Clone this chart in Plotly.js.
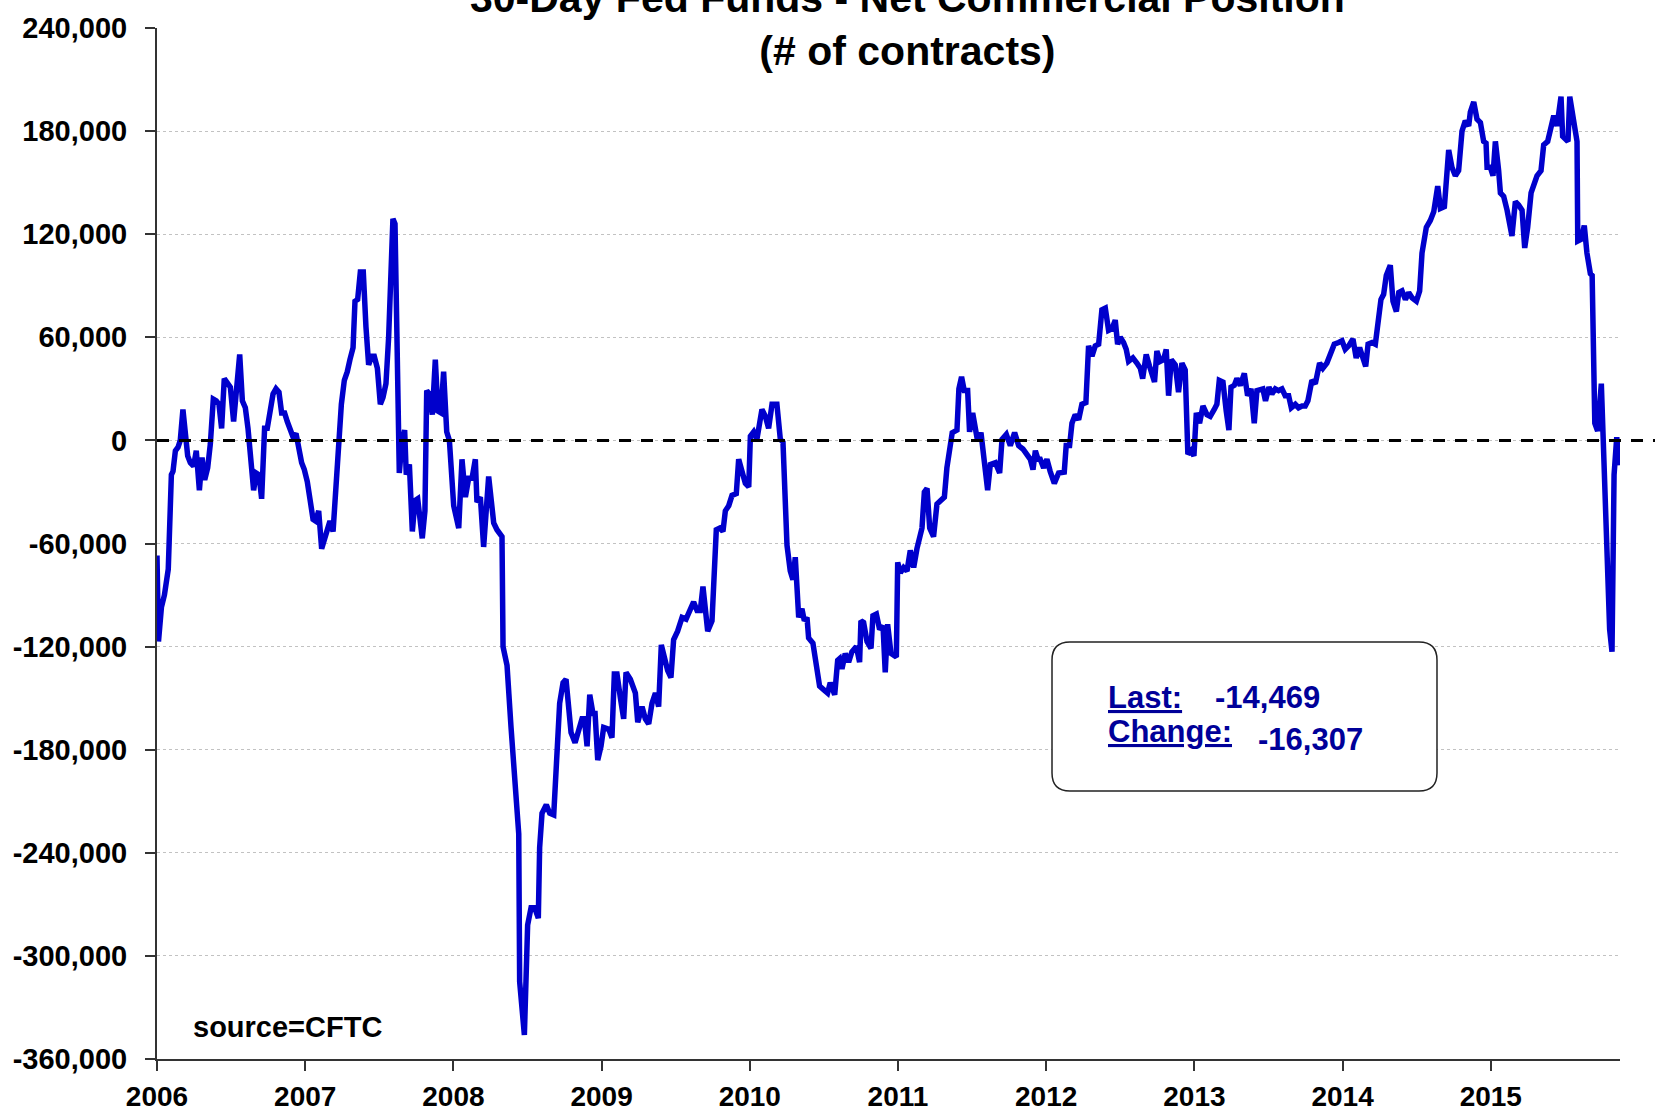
<!DOCTYPE html>
<html>
<head>
<meta charset="utf-8">
<script src="https://cdn.plot.ly/plotly-3.0.1.min.js"></script>
<style>
html,body{margin:0;padding:0;background:#ffffff;}
#chart{width:1655px;height:1113px;}
</style>
</head>
<body>
<div id="chart"></div>
<script>
// ---- DATA (decimal year, net commercial position in # of contracts) ----
const weekYears = [
  2006.000,2006.010,2006.030,2006.050,2006.076,2006.097,2006.108,2006.124,2006.142,2006.157,
  2006.175,2006.193,2006.207,2006.225,2006.247,2006.265,2006.286,2006.304,2006.322,2006.342,
  2006.360,2006.380,2006.400,2006.418,2006.436,2006.454,2006.475,2006.495,2006.517,2006.535,
  2006.558,2006.576,2006.596,2006.614,2006.632,2006.652,2006.670,2006.688,2006.706,2006.726,
  2006.744,2006.765,2006.783,2006.803,2006.823,2006.841,2006.861,2006.879,2006.900,2006.918,
  2006.938,2006.956,2006.976,2006.994,2007.014,2007.032,2007.053,2007.071,2007.091,2007.111,
  2007.129,2007.149,2007.167,2007.188,2007.206,2007.226,2007.244,2007.264,2007.284,2007.302,
  2007.323,2007.336,2007.354,2007.372,2007.392,2007.410,2007.428,2007.449,2007.466,2007.487,
  2007.507,2007.525,2007.545,2007.563,2007.583,2007.592,2007.606,2007.622,2007.635,2007.653,
  2007.671,2007.682,2007.703,2007.723,2007.741,2007.759,2007.779,2007.790,2007.808,2007.820,
  2007.838,2007.858,2007.878,2007.896,2007.916,2007.934,2007.955,2007.973,
  2008.002,2008.036,2008.058,2008.081,2008.103,2008.126,2008.148,2008.159,2008.182,2008.204,
  2008.238,2008.272,2008.294,2008.328,2008.335,2008.362,2008.389,2008.418,2008.441,2008.447,
  2008.479,2008.501,2008.524,2008.549,2008.573,2008.582,2008.598,2008.627,2008.650,2008.677,
  2008.699,2008.717,2008.740,2008.760,2008.794,2008.821,2008.848,2008.868,2008.884,2008.902,
  2008.920,2008.942,2008.956,2008.974,2008.996,2009.014,2009.048,2009.070,2009.086,2009.104,
  2009.127,2009.149,2009.165,2009.194,2009.228,2009.244,2009.273,2009.295,2009.318,2009.340,
  2009.363,2009.385,2009.403,2009.423,2009.446,2009.468,2009.486,2009.513,2009.543,2009.570,
  2009.599,2009.621,2009.644,2009.666,2009.684,2009.700,2009.716,2009.745,2009.756,2009.774,
  2009.797,2009.819,2009.835,2009.858,2009.880,2009.909,2009.925,2009.948,2009.970,2009.993,
  2010.004,2010.026,2010.048,2010.082,2010.105,2010.127,2010.150,2010.183,2010.206,2010.224,
  2010.235,2010.251,2010.273,2010.291,2010.307,2010.330,2010.352,2010.368,2010.386,2010.397,
  2010.426,2010.449,2010.471,2010.498,2010.525,2010.543,2010.573,2010.593,2010.606,2010.622,
  2010.644,2010.667,2010.689,2010.719,2010.741,2010.750,2010.768,2010.791,2010.818,2010.831,
  2010.854,2010.876,2010.899,2010.914,2010.930,2010.953,2010.989,2010.998,2011.016,2011.038,
  2011.061,2011.083,2011.106,2011.128,2011.151,2011.162,2011.178,2011.196,2011.214,2011.240,
  2011.263,2011.286,2011.313,2011.330,2011.353,2011.366,2011.398,2011.411,2011.429,2011.447,
  2011.470,2011.483,2011.504,2011.517,2011.537,2011.560,2011.582,2011.605,2011.623,2011.657,
  2011.686,2011.702,2011.731,2011.758,2011.787,2011.814,2011.843,2011.870,2011.893,2011.911,
  2011.927,2011.945,2011.960,2011.983,2012.005,2012.027,2012.055,2012.084,
  2012.099,2012.122,2012.135,2012.158,2012.174,2012.196,2012.219,2012.241,2012.268,2012.286,
  2012.309,2012.331,2012.354,2012.376,2012.399,2012.421,2012.444,2012.466,2012.482,2012.500,
  2012.522,2012.540,2012.556,2012.585,2012.612,2012.635,2012.651,2012.675,2012.698,2012.720,
  2012.731,2012.747,2012.770,2012.792,2012.810,2012.826,2012.844,2012.871,2012.893,2012.916,
  2012.938,2012.956,2012.977,2012.997,2013.013,2013.035,2013.058,2013.085,2013.107,2013.134,
  2013.152,2013.168,2013.193,2013.215,2013.233,2013.247,2013.269,2013.287,2013.310,2013.337,
  2013.359,2013.382,2013.404,2013.422,2013.444,2013.462,2013.480,2013.503,2013.523,2013.546,
  2013.568,2013.591,2013.613,2013.636,2013.654,2013.681,2013.703,2013.726,2013.748,2013.766,
  2013.793,2013.816,2013.845,2013.867,2013.894,2013.921,2013.944,2013.973,2013.996,2014.018,
  2014.041,2014.070,2014.092,
  2014.115,2014.138,2014.156,2014.172,2014.199,2014.221,2014.244,2014.259,2014.277,2014.295,
  2014.322,2014.340,2014.363,2014.379,2014.401,2014.424,2014.446,2014.469,2014.498,2014.520,
  2014.536,2014.565,2014.592,2014.615,2014.642,2014.660,2014.687,2014.716,2014.738,2014.761,
  2014.783,2014.806,2014.828,2014.851,2014.862,2014.885,2014.907,2014.930,2014.952,2014.968,
  2014.975,2014.997,2015.015,2015.031,2015.053,2015.065,2015.087,2015.110,2015.143,2015.166,
  2015.188,2015.211,2015.229,2015.249,2015.272,2015.294,2015.312,2015.339,2015.357,2015.384,
  2015.402,2015.425,2015.447,2015.474,2015.485,2015.503,2015.521,2015.533,2015.555,2015.582,
  2015.587,2015.609,2015.631,2015.649,2015.672,2015.684,2015.702,2015.721,2015.746,2015.765,
  2015.784,2015.802,2015.818,2015.832,2015.850,2015.868
];

const netPosition = [
  -67000,-117000,-97000,-90000,-75000,-20000,-18000,-6000,-4000,0,
  18000,2000,-9000,-13000,-15000,-6000,-29000,-10000,-23000,-16000,
  -2000,24000,23000,21000,7000,36000,34000,31000,11000,25000,
  50000,23000,19000,7000,-12000,-29000,-19000,-20000,-34000,7000,
  7000,21000,27000,30000,28000,16000,16000,11000,5000,2000,
  4000,-6000,-13000,-17000,-24000,-34000,-46000,-47000,-41000,-63000,
  -57000,-53000,-47000,-53000,-26000,2000,21000,35000,40000,47000,
  54000,81000,82000,98000,98000,66000,44000,49000,49000,42000,
  21000,25000,33000,60000,101000,129000,126000,52000,-19000,-1000,
  6000,-20000,-14000,-53000,-35000,-34000,-47000,-57000,-41000,29000,
  27000,15000,47000,17000,16000,40000,5000,0,
  -38000,-51000,-11000,-33000,-22000,-22000,-11000,-36000,-33000,-62000,
  -21000,-48000,-52000,-56000,-120000,-131000,-167000,-204000,-229000,-315000,
  -346000,-282000,-272000,-272000,-278000,-237000,-217000,-212000,-217000,-218000,
  -187000,-153000,-141000,-139000,-170000,-176000,-168000,-162000,-162000,-178000,
  -148000,-159000,-159000,-186000,-178000,-167000,-168000,-173000,-136000,-136000,
  -150000,-162000,-135000,-139000,-147000,-164000,-155000,-162000,-165000,-153000,
  -147000,-155000,-119000,-126000,-134000,-138000,-116000,-111000,-103000,-104000,
  -99000,-94000,-99000,-99000,-85000,-96000,-111000,-105000,-76000,-52000,
  -51000,-53000,-41000,-38000,-32000,-31000,-11000,-18000,-25000,-27000,
  2500,5000,600,18000,14000,7000,21000,21000,600,-1000,
  -35000,-61000,-76000,-81000,-68000,-103000,-98000,-105000,-103000,-115000,
  -118000,-129000,-143000,-145000,-147000,-141000,-148000,-128000,-127000,-133000,
  -124000,-129000,-123000,-120000,-129000,-105000,-106000,-117000,-121000,-102000,
  -101000,-110000,-108000,-135000,-107000,-124000,-126000,-71000,-77000,-74000,
  -76000,-64000,-74000,-63000,-55000,-51000,-30000,-28000,-51000,-56000,
  -37000,-35000,-33000,-16000,-5000,4500,6000,30000,37000,29000,
  29000,5000,16000,9000,-400,4500,-13000,-29000,-14000,-13000,
  -19000,600,3500,-3000,4500,-3000,-5000,-8000,-11000,-17000,
  -6000,-11000,-11000,-16000,-11000,-18000,-25000,-19000,
  -19000,-18500,-3000,-3000,10000,15000,12000,21000,22000,55000,
  49000,55000,56000,76000,77000,64000,65000,70000,56000,60000,
  57000,53000,46000,48000,45000,42000,36000,50000,43000,35000,
  34000,52000,46000,47000,53000,26000,47000,44000,28000,45000,
  41000,-8000,-6000,-9000,16000,10000,20000,15000,14000,18000,
  21000,35000,34000,17000,6000,31000,32000,36000,32000,39000,
  26000,30000,10000,29000,30000,30000,23000,31000,27000,30000,
  29000,30000,26000,26000,19000,21000,19000,20000,20000,23000,
  35000,33000,45000,42000,45000,52000,56000,57000,58000,53000,
  55000,59000,48000,
  54000,47000,43000,56000,57000,56000,70000,82000,85000,96000,
  102000,81000,75000,86000,87000,82000,86000,83000,81000,87000,
  109000,124000,128000,133000,148000,135000,136000,169000,159000,154000,
  157000,180000,186000,183000,191000,197000,187000,185000,174000,173000,
  159000,159000,154000,174000,157000,144000,142000,134000,119000,139000,
  137000,134000,112000,124000,144000,149000,154000,157000,172000,174000,
  182000,189000,183000,200000,177000,175000,174000,200000,188000,174000,
  116000,117000,125000,109000,97000,96000,10000,5500,33000,-20000,
  -66000,-110000,-123000,-20000,1838,-14469
];

const yearTickValues = [2006,2007,2008,2009,2010,2011,2012,2013,2014,2015];
const yearTickLabels = ['2006','2007','2008','2009','2010','2011','2012','2013','2014','2015'];
const yTickValues = [240000,180000,120000,60000,0,-60000,-120000,-180000,-240000,-300000,-360000];
const yTickLabels = ['240,000','180,000','120,000','60,000','0','-60,000','-120,000','-180,000','-240,000','-300,000','-360,000'];

const titleLines = ['30-Day Fed Funds - Net Commercial Position', '(# of contracts)'];
const sourceText = 'source=CFTC';
const lastValue = -14469;
const changeValue = -16307;

// ---- LAYOUT GEOMETRY ----
const W = 1655, H = 1113;
const M = {l:157, r:35, t:28, b:54};
const PW = W - M.l - M.r, PH = H - M.t - M.b;
const yRange = [-360000, 240000];
const xRange = [2006, 2015.872];
const FONT = 'Liberation Sans, Arial, Helvetica, sans-serif';
const px = v => (v - M.l) / PW;           // pixel x -> paper
const py = v => (H - M.b - v) / PH;       // pixel y -> paper
const fmt = n => (n < 0 ? '-' : '') + Math.abs(n).toLocaleString('en-US');

// rounded info box (pixel geometry -> paper path)
function roundRect(x0, y0, x1, y1, r) {
  const P = (x, y) => px(x).toFixed(5) + ',' + py(y).toFixed(5);
  return 'M' + P(x0 + r, y0) + ' L' + P(x1 - r, y0) + ' Q' + P(x1, y0) + ' ' + P(x1, y0 + r) +
         ' L' + P(x1, y1 - r) + ' Q' + P(x1, y1) + ' ' + P(x1 - r, y1) +
         ' L' + P(x0 + r, y1) + ' Q' + P(x0, y1) + ' ' + P(x0, y1 - r) +
         ' L' + P(x0, y0 + r) + ' Q' + P(x0, y0) + ' ' + P(x0 + r, y0) + ' Z';
}

const trace = {
  x: weekYears,
  y: netPosition,
  type: 'scatter',
  mode: 'lines',
  line: {color: '#0000cc', width: 5.5, shape: 'linear'},
  hoverinfo: 'skip'
};

const zeroFrac = (0 - yRange[0]) / (yRange[1] - yRange[0]);
const navy = '#000099';

const layout = {
  width: W, height: H,
  margin: M,
  paper_bgcolor: '#ffffff',
  plot_bgcolor: '#ffffff',
  showlegend: false,
  font: {family: FONT, color: '#000000'},
  xaxis: {
    type: 'linear',
    range: xRange,
    tickmode: 'array',
    tickvals: yearTickValues,
    ticktext: yearTickLabels,
    ticks: 'outside', ticklen: 10, tickwidth: 2, tickcolor: '#333333',
    showline: true, linewidth: 2, linecolor: '#333333',
    showgrid: false, zeroline: false,
    tickfont: {family: FONT, size: 28, color: '#000000', weight: 'bold'},
    ticklabelstandoff: 1,
    fixedrange: true
  },
  yaxis: {
    range: yRange,
    tickmode: 'array',
    tickvals: yTickValues,
    ticktext: yTickLabels,
    ticks: 'outside', ticklen: 10, tickwidth: 2, tickcolor: '#333333',
    showline: true, linewidth: 2, linecolor: '#333333',
    showgrid: true, gridcolor: '#c2c2c2', gridwidth: 1, griddash: 'dot',
    zeroline: false,
    tickfont: {family: FONT, size: 29, color: '#000000', weight: 'bold'},
    ticklabelstandoff: 12,
    fixedrange: true
  },
  shapes: [
    {type: 'line', xref: 'paper', yref: 'paper', x0: 0, x1: (W - M.l) / PW, y0: zeroFrac, y1: zeroFrac,
     line: {color: '#000000', width: 3, dash: '12px,10px'}, layer: 'above'},
    {type: 'path', xref: 'paper', yref: 'paper', path: roundRect(1052, 642, 1437, 791, 18),
     fillcolor: '#ffffff', line: {color: '#222222', width: 1.5}, layer: 'above'}
  ],
  annotations: [
    {text: titleLines.join('<br>'), xref: 'paper', yref: 'paper', x: px(907), y: py(24),
     xanchor: 'center', yanchor: 'middle', showarrow: false, bgcolor: '#ffffff', borderpad: 10,
     font: {family: FONT, size: 41, color: '#000000', weight: 'bold'}},
    {text: sourceText, xref: 'paper', yref: 'paper', x: px(191), y: py(1027),
     xanchor: 'left', yanchor: 'middle', showarrow: false,
     font: {family: FONT, size: 29, color: '#000000', weight: 'bold'}},
    {text: '<u>Last:</u>', xref: 'paper', yref: 'paper', x: px(1106), y: py(697),
     xanchor: 'left', yanchor: 'middle', showarrow: false,
     font: {family: FONT, size: 31, color: navy, weight: 'bold'}},
    {text: fmt(lastValue), xref: 'paper', yref: 'paper', x: px(1213), y: py(697),
     xanchor: 'left', yanchor: 'middle', showarrow: false,
     font: {family: FONT, size: 31, color: navy, weight: 'bold'}},
    {text: '<u>Change:</u>', xref: 'paper', yref: 'paper', x: px(1106), y: py(731),
     xanchor: 'left', yanchor: 'middle', showarrow: false,
     font: {family: FONT, size: 31, color: navy, weight: 'bold'}},
    {text: fmt(changeValue), xref: 'paper', yref: 'paper', x: px(1256), y: py(739),
     xanchor: 'left', yanchor: 'middle', showarrow: false,
     font: {family: FONT, size: 31, color: navy, weight: 'bold'}}
  ]
};

Plotly.newPlot('chart', [trace], layout, {displayModeBar: false, staticPlot: true});
</script>
</body>
</html>
